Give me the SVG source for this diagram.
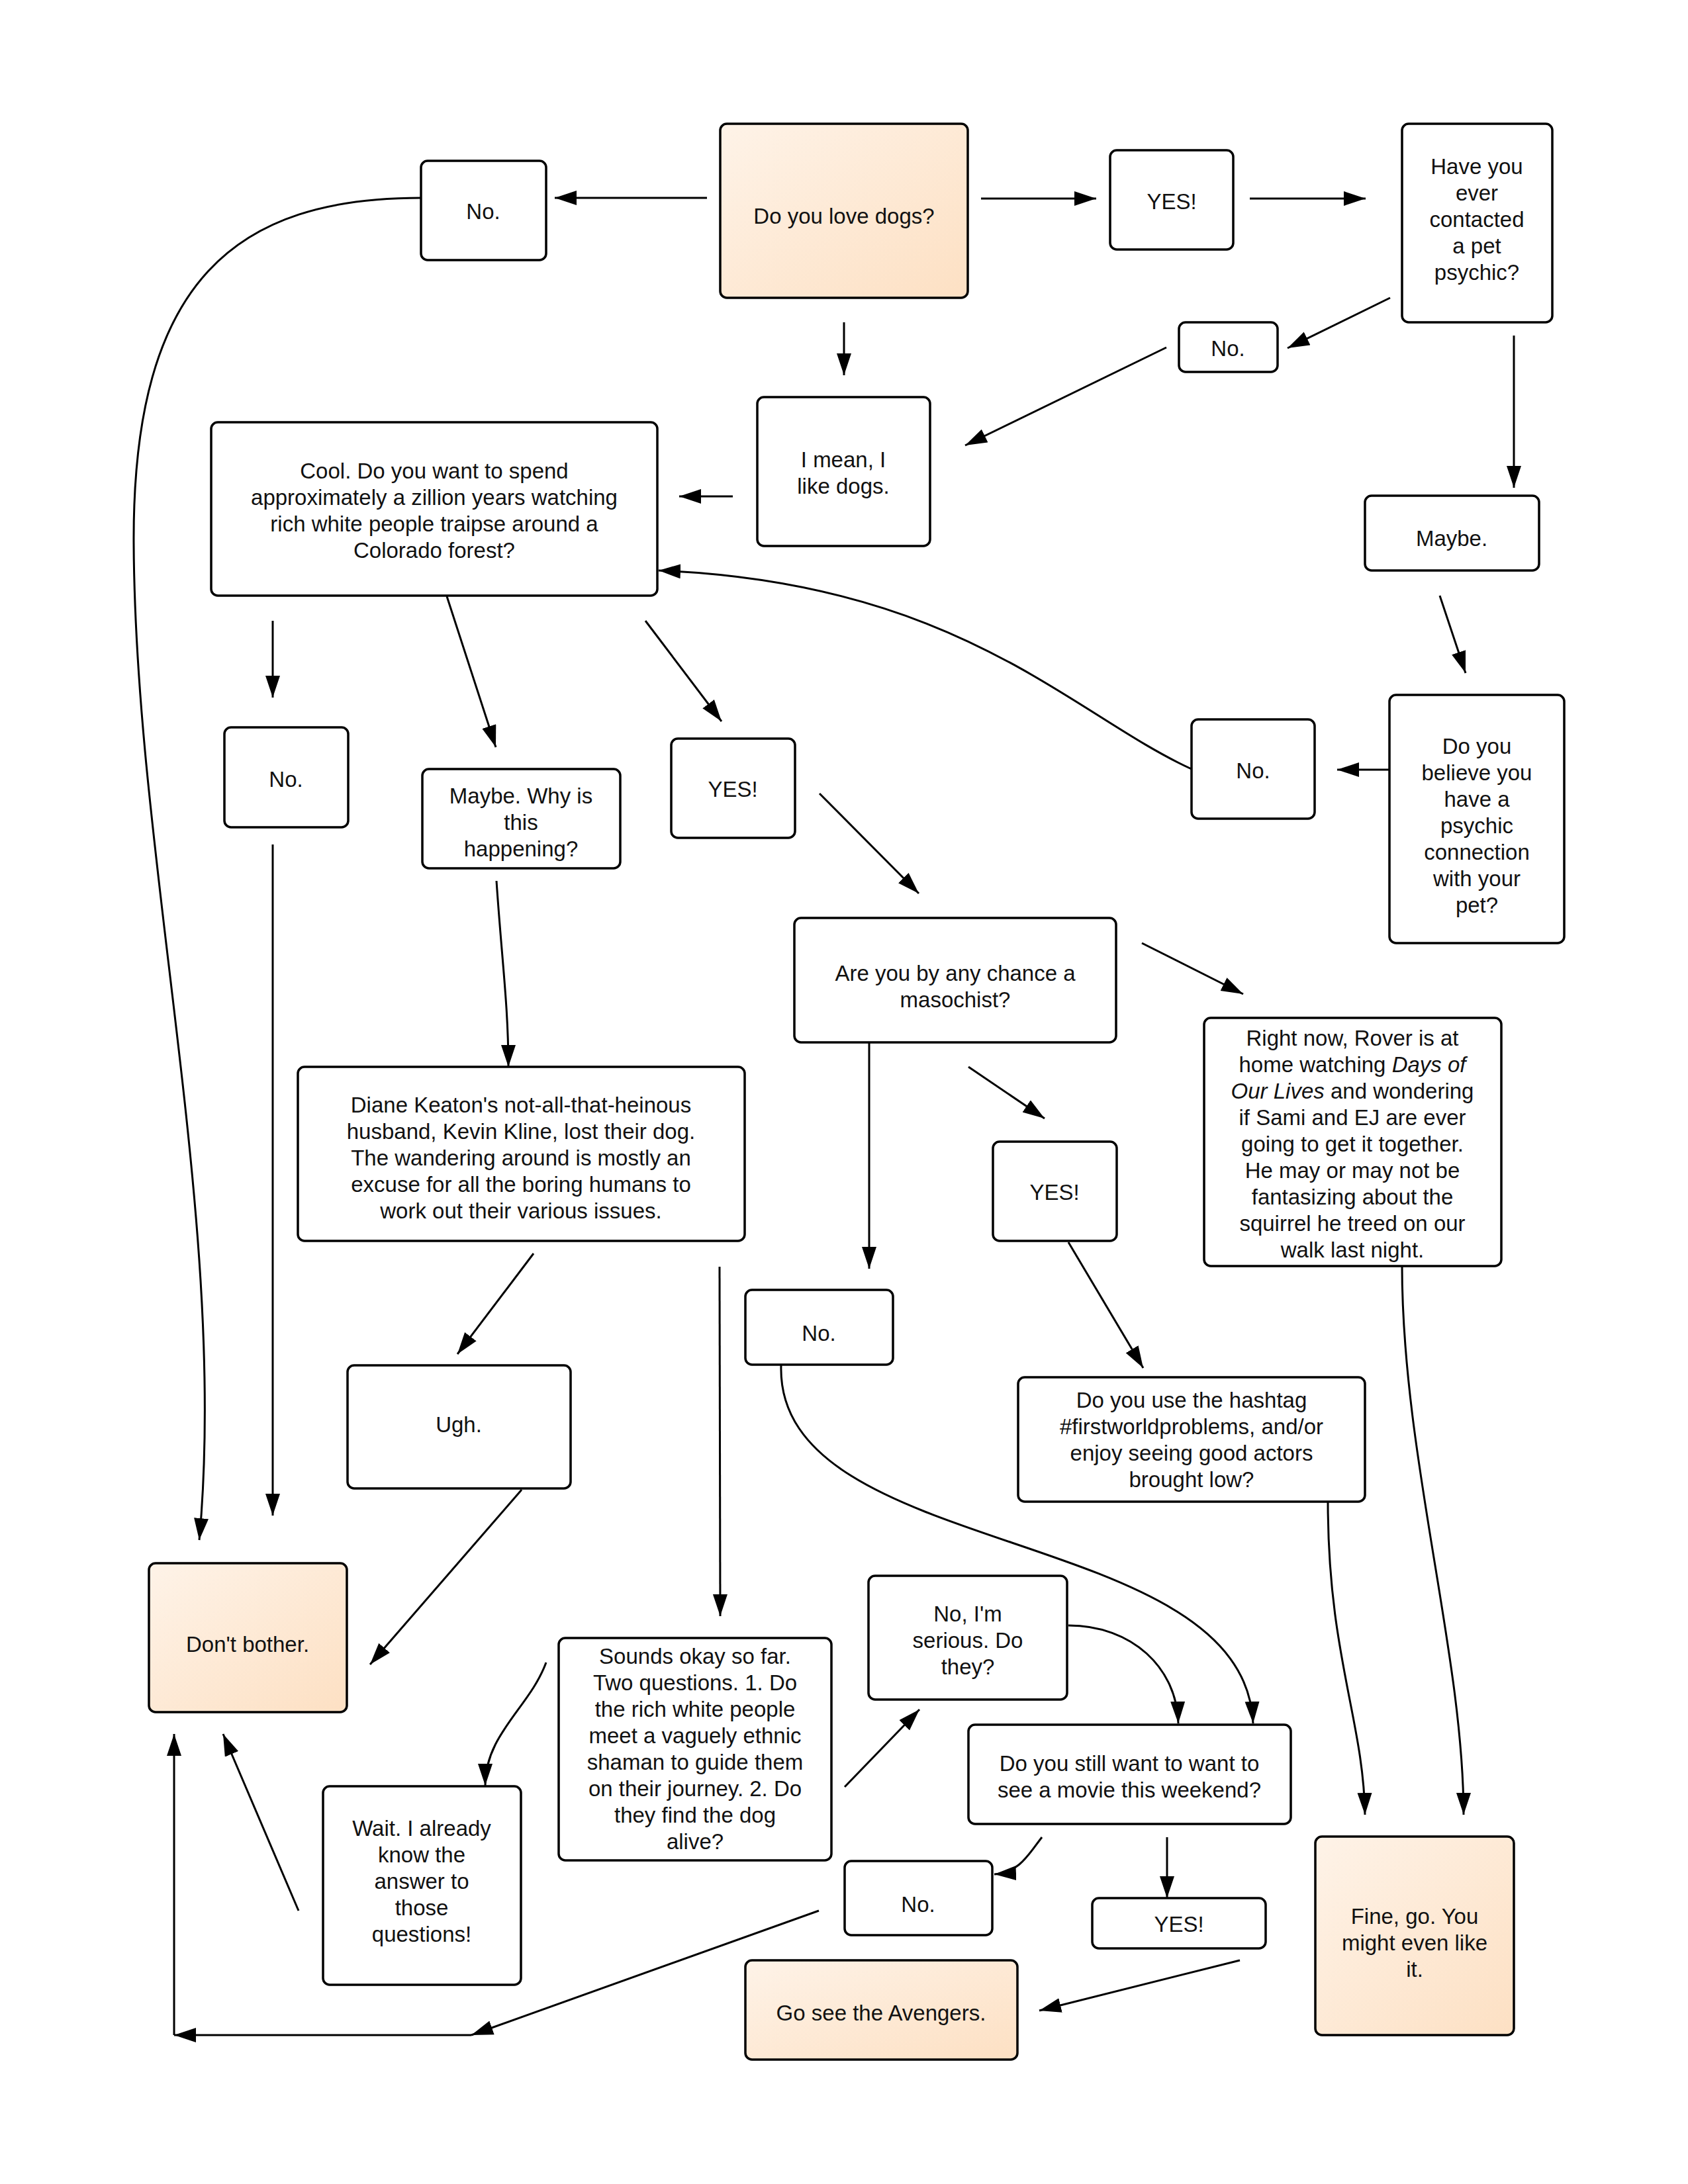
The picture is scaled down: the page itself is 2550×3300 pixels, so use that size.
<svg xmlns="http://www.w3.org/2000/svg" width="2550" height="3300" viewBox="0 0 2550 3300">
<style>
.b{fill:#fff;stroke:#000;stroke-width:3.5}
.p{fill:url(#peach);stroke:#000;stroke-width:3.5}
.t{font-family:"Liberation Sans",Arial,sans-serif;font-size:33px;fill:#111;text-anchor:middle}
.c{fill:none;stroke:#000;stroke-width:3;marker-end:url(#ah)}
.i{font-style:italic}
</style>
<defs>
<linearGradient id="peach" x1="0" y1="0" x2="1" y2="1">
<stop offset="0" stop-color="#fef3e8"/>
<stop offset="1" stop-color="#fde0c3"/>
</linearGradient>
<marker id="ah" markerUnits="userSpaceOnUse" markerWidth="36" markerHeight="24" refX="33" refY="11" orient="auto">
<path d="M0,0 L33,11 L0,22 z" fill="#000"/>
</marker>
</defs>
<rect width="2550" height="3300" fill="#fff"/>
<g id="connectors">
<path class="c" d="M1068,299 L838,299"/>
<path class="c" d="M1482,300 L1656,300"/>
<path class="c" d="M1888,300 L2063,300"/>
<path class="c" d="M2100,450 L1945,526"/>
<path class="c" d="M2287,507 L2287,737"/>
<path class="c" d="M1275,487 L1275,567"/>
<path class="c" d="M1762,525 L1458,673"/>
<path class="c" d="M1107,750 L1026,750"/>
<path class="c" d="M2175,900 L2214,1017"/>
<path class="c" d="M2100,1163 L2020,1163"/>
<path class="c" d="M1800,1162 C1620,1080 1450,880 995,862"/>
<path class="c" d="M412,938 L412,1054"/>
<path class="c" d="M675,901 L749,1129"/>
<path class="c" d="M975,938 L1090,1090"/>
<path class="c" d="M1238,1199 L1388,1350"/>
<path class="c" d="M1725,1425 L1878,1502"/>
<path class="c" d="M1313,1574 L1313,1917"/>
<path class="c" d="M1463,1612 L1578,1690"/>
<path class="c" d="M1614,1877 L1727,2067"/>
<path class="c" d="M750,1331 C758,1450 768,1520 768,1612"/>
<path class="c" d="M412,1276 L412,2290"/>
<path class="c" d="M636,299 C360,299 200,420 202,820 C204,1300 345,1850 301,2327"/>
<path class="c" d="M806,1894 L691,2046"/>
<path class="c" d="M788,2251 L559,2515"/>
<path class="c" d="M1087,1914 L1088,2442"/>
<path class="c" d="M1180,2062 C1170,2360 1880,2300 1893,2604"/>
<path class="c" d="M2006,2269 C2006,2500 2060,2600 2062,2742"/>
<path class="c" d="M2118,1912 C2118,2200 2211,2500 2211,2742"/>
<path class="c" d="M825,2512 C800,2580 733,2620 733,2698"/>
<path class="c" d="M1276,2700 L1389,2583"/>
<path class="c" d="M1614,2456 C1710,2456 1778,2520 1780,2604"/>
<path class="c" d="M1574,2776 C1555,2800 1540,2830 1502,2832"/>
<path class="c" d="M1763,2776 L1763,2868"/>
<path class="c" d="M1873,2962 L1570,3038"/>
<path class="c" d="M451,2887 L337,2620"/>
<path class="c" d="M1237,2887 L712,3075"/>
<path class="c" d="M712,3075 L263,3075"/>
<path class="c" d="M263,3075 L263,2620"/>
</g>
<g id="n1"><rect class="p" x="1088" y="187" width="374" height="263" rx="10"/><text class="t" x="1275" y="338">Do you love dogs?</text></g>
<g id="n2"><rect class="b" x="636" y="243" width="189" height="150" rx="10"/><text class="t" x="730" y="331">No.</text></g>
<g id="n3"><rect class="b" x="1677" y="227" width="186" height="150" rx="10"/><text class="t" x="1770" y="316">YES!</text></g>
<g id="n4"><rect class="b" x="2118" y="187" width="227" height="300" rx="10"/><text class="t" x="2231"><tspan x="2231" y="263">Have you</tspan><tspan x="2231" y="303">ever</tspan><tspan x="2231" y="343">contacted</tspan><tspan x="2231" y="383">a pet</tspan><tspan x="2231" y="423">psychic?</tspan></text></g>
<g id="n5"><rect class="b" x="1781" y="487" width="149" height="75" rx="10"/><text class="t" x="1855" y="538">No.</text></g>
<g id="n6"><rect class="b" x="1144" y="600" width="261" height="225" rx="10"/><text class="t"><tspan x="1274" y="706">I mean, I</tspan><tspan x="1274" y="746">like dogs.</tspan></text></g>
<g id="n7"><rect class="b" x="319" y="638" width="674" height="262" rx="10"/><text class="t"><tspan x="656" y="723">Cool. Do you want to spend</tspan><tspan x="656" y="763">approximately a zillion years watching</tspan><tspan x="656" y="803">rich white people traipse around a</tspan><tspan x="656" y="843">Colorado forest?</tspan></text></g>
<g id="n8"><rect class="b" x="2062" y="749" width="263" height="113" rx="10"/><text class="t" x="2193" y="825">Maybe.</text></g>
<g id="n9"><rect class="b" x="2099" y="1050" width="264" height="375" rx="10"/><text class="t"><tspan x="2231" y="1139">Do you</tspan><tspan x="2231" y="1179">believe you</tspan><tspan x="2231" y="1219">have a</tspan><tspan x="2231" y="1259">psychic</tspan><tspan x="2231" y="1299">connection</tspan><tspan x="2231" y="1339">with your</tspan><tspan x="2231" y="1379">pet?</tspan></text></g>
<g id="n10"><rect class="b" x="1800" y="1087" width="186" height="150" rx="10"/><text class="t" x="1893" y="1176">No.</text></g>
<g id="n11"><rect class="b" x="339" y="1099" width="187" height="151" rx="10"/><text class="t" x="432" y="1189">No.</text></g>
<g id="n12"><rect class="b" x="638" y="1162" width="299" height="150" rx="10"/><text class="t"><tspan x="787" y="1214">Maybe. Why is</tspan><tspan x="787" y="1254">this</tspan><tspan x="787" y="1294">happening?</tspan></text></g>
<g id="n13"><rect class="b" x="1014" y="1116" width="187" height="150" rx="10"/><text class="t" x="1107" y="1204">YES!</text></g>
<g id="n14"><rect class="b" x="1200" y="1387" width="486" height="188" rx="10"/><text class="t"><tspan x="1443" y="1482">Are you by any chance a</tspan><tspan x="1443" y="1522">masochist?</tspan></text></g>
<g id="n15"><rect class="b" x="1819" y="1538" width="449" height="375" rx="10"/><text class="t"><tspan x="2043" y="1580">Right now, Rover is at</tspan><tspan x="2043" y="1620">home watching <tspan class="i">Days of</tspan></tspan><tspan x="2043" y="1660"><tspan class="i">Our Lives</tspan> and wondering</tspan><tspan x="2043" y="1700">if Sami and EJ are ever</tspan><tspan x="2043" y="1740">going to get it together.</tspan><tspan x="2043" y="1780">He may or may not be</tspan><tspan x="2043" y="1820">fantasizing about the</tspan><tspan x="2043" y="1860">squirrel he treed on our</tspan><tspan x="2043" y="1900">walk last night.</tspan></text></g>
<g id="n16"><rect class="b" x="450" y="1612" width="675" height="263" rx="10"/><text class="t"><tspan x="787" y="1681">Diane Keaton's not-all-that-heinous</tspan><tspan x="787" y="1721">husband, Kevin Kline, lost their dog.</tspan><tspan x="787" y="1761">The wandering around is mostly an</tspan><tspan x="787" y="1801">excuse for all the boring humans to</tspan><tspan x="787" y="1841">work out their various issues.</tspan></text></g>
<g id="n17"><rect class="b" x="1500" y="1725" width="187" height="150" rx="10"/><text class="t" x="1593" y="1813">YES!</text></g>
<g id="n18"><rect class="b" x="1126" y="1949" width="223" height="113" rx="10"/><text class="t" x="1237" y="2026">No.</text></g>
<g id="n19"><rect class="b" x="525" y="2063" width="337" height="186" rx="10"/><text class="t" x="693" y="2164">Ugh.</text></g>
<g id="n20"><rect class="b" x="1538" y="2081" width="524" height="188" rx="10"/><text class="t"><tspan x="1800" y="2127">Do you use the hashtag</tspan><tspan x="1800" y="2167">#firstworldproblems, and/or</tspan><tspan x="1800" y="2207">enjoy seeing good actors</tspan><tspan x="1800" y="2247">brought low?</tspan></text></g>
<g id="n21"><rect class="p" x="225" y="2362" width="299" height="225" rx="10"/><text class="t" x="374" y="2496">Don't bother.</text></g>
<g id="n22"><rect class="b" x="844" y="2475" width="412" height="336" rx="10"/><text class="t"><tspan x="1050" y="2514">Sounds okay so far.</tspan><tspan x="1050" y="2554">Two questions. 1. Do</tspan><tspan x="1050" y="2594">the rich white people</tspan><tspan x="1050" y="2634">meet a vaguely ethnic</tspan><tspan x="1050" y="2674">shaman to guide them</tspan><tspan x="1050" y="2714">on their journey. 2. Do</tspan><tspan x="1050" y="2754">they find the dog</tspan><tspan x="1050" y="2794">alive?</tspan></text></g>
<g id="n23"><rect class="b" x="1312" y="2381" width="300" height="187" rx="10"/><text class="t"><tspan x="1462" y="2450">No, I'm</tspan><tspan x="1462" y="2490">serious. Do</tspan><tspan x="1462" y="2530">they?</tspan></text></g>
<g id="n24"><rect class="b" x="1463" y="2606" width="487" height="150" rx="10"/><text class="t"><tspan x="1706" y="2676">Do you still want to want to</tspan><tspan x="1706" y="2716">see a movie this weekend?</tspan></text></g>
<g id="n25"><rect class="b" x="488" y="2699" width="299" height="300" rx="10"/><text class="t"><tspan x="637" y="2774">Wait. I already</tspan><tspan x="637" y="2814">know the</tspan><tspan x="637" y="2854">answer to</tspan><tspan x="637" y="2894">those</tspan><tspan x="637" y="2934">questions!</tspan></text></g>
<g id="n26"><rect class="b" x="1276" y="2812" width="223" height="112" rx="10"/><text class="t" x="1387" y="2889">No.</text></g>
<g id="n27"><rect class="b" x="1650" y="2868" width="262" height="76" rx="10"/><text class="t" x="1781" y="2919">YES!</text></g>
<g id="n28"><rect class="p" x="1126" y="2962" width="411" height="150" rx="10"/><text class="t" x="1331" y="3053">Go see the Avengers.</text></g>
<g id="n29"><rect class="p" x="1987" y="2775" width="300" height="300" rx="10"/><text class="t"><tspan x="2137" y="2907">Fine, go. You</tspan><tspan x="2137" y="2947">might even like</tspan><tspan x="2137" y="2987">it.</tspan></text></g>
</svg>
